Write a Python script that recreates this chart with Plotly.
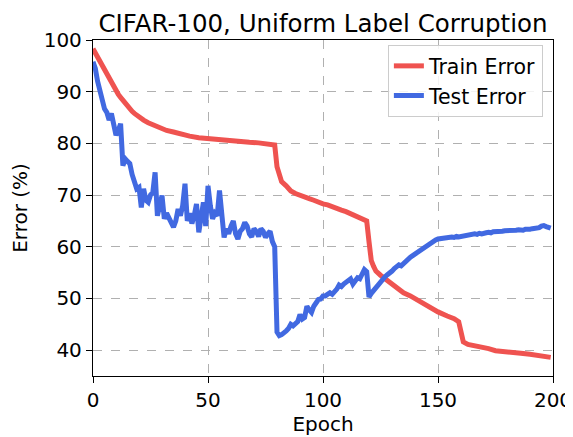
import plotly.graph_objects as go

# Train error (red)
train_epoch = [0, 1, 2, 3, 4, 5, 6, 7, 8, 9, 10, 11, 12, 13, 14, 15, 16, 17, 18, 19, 20,
               22, 24, 26, 28, 30, 32, 35, 38, 42, 46, 50, 54, 57, 60, 64, 68, 72, 75, 78,
               79, 80, 81, 82, 84, 86, 88, 90, 92, 94, 96, 98, 100, 102, 104, 106, 108,
               110, 112, 114, 116, 118, 119, 120, 121, 122, 123, 125, 128, 130, 132, 135,
               138, 140, 143, 146, 150, 154, 157, 159, 160, 161, 163, 166, 168, 172, 175,
               178, 182, 186, 190, 194, 197, 199]
train_error = [98.3, 97.5, 96.5, 95.5, 94.8, 94.2, 93.3, 92.6, 91.8, 91.0, 90.3, 89.5, 88.9,
               88.3, 87.7, 87.2, 86.7, 86.2, 85.8, 85.4, 85.1,
               84.5, 84.0, 83.6, 83.2, 82.8, 82.5, 82.2, 81.8, 81.4, 81.1, 80.9, 80.7, 80.6,
               80.5, 80.4, 80.2, 80.1, 80.0, 79.9,
               79.7, 75.5, 73.5, 72.6, 71.8, 70.8, 70.3, 69.9, 69.6, 69.3, 69.0, 68.6, 68.3,
               68.1, 67.7, 67.4, 67.1, 66.8, 66.4, 66.1, 65.6, 65.2, 65.0, 61.0, 57.3, 56.2,
               55.3, 54.5, 53.5, 52.8, 51.9, 51.1, 50.5, 50.0, 49.1, 48.3, 47.4, 46.6, 46.1,
               45.5, 43.0, 41.6, 41.1, 40.9, 40.8, 40.3, 39.9, 39.7, 39.5, 39.4, 39.2, 39.0,
               38.8, 38.6]

# Test error (blue), one reading per epoch
test_epoch = list(range(0, 200))
test_error = [95.8, 94.5, 92.0, 90.0, 88.5, 86.7, 86.0, 84.5, 85.8, 83.0,
              81.6, 82.5, 83.8, 75.7, 77.0, 76.5, 76.1, 74.0, 72.5, 71.2,
              71.5, 67.6, 71.2, 69.0, 68.6, 70.0, 70.5, 74.4, 66.0, 68.0,
              69.9, 65.4, 66.5, 65.6, 64.5, 63.8, 65.0, 67.3, 66.0, 68.0,
              72.2, 65.0, 66.5, 64.5, 66.0, 68.3, 62.8, 66.0, 68.6, 64.0,
              71.8, 68.0, 65.4, 66.5, 66.0, 70.9, 67.0, 61.8, 63.5, 62.5,
              64.0, 65.0, 62.5, 61.5, 63.0, 63.5, 64.7, 64.0, 62.5, 61.9,
              63.5, 63.0, 62.0, 63.5, 63.0, 61.8, 62.5, 63.0, 61.0, 60.0,
              43.5, 42.8, 43.0, 43.3, 43.7, 44.2, 45.0, 44.7, 45.2, 45.5,
              46.9, 46.0, 46.3, 48.5, 47.8, 47.3, 48.5, 49.3, 49.8, 49.9,
              50.5, 50.5, 50.8, 51.1, 50.8, 51.2, 51.8, 52.6, 52.3, 52.8,
              53.1, 53.5, 53.8, 52.8, 53.6, 54.0, 53.8, 54.5, 55.6, 55.2,
              50.3, 51.0, 51.6, 52.2, 52.8, 53.2, 53.6, 54.2, 54.6, 54.9,
              55.3, 55.8, 56.3, 56.5, 56.3, 56.8, 57.3, 57.6, 58.0, 58.3,
              58.6, 58.9, 59.2, 59.5, 59.9, 60.3, 60.5, 60.8, 61.1, 61.3,
              61.5, 61.6, 61.6, 61.7, 61.8, 61.8, 61.9, 61.8, 62.0, 61.9,
              62.0, 61.9, 62.1, 62.2, 62.4, 62.4, 62.5, 62.4, 62.6, 62.5,
              62.7, 62.7, 62.8, 62.7, 62.9, 62.9, 63.0, 62.8, 63.0, 63.1,
              63.1, 63.0, 63.2, 63.1, 63.2, 63.3, 63.2, 63.2, 63.4, 63.3,
              63.4, 63.5, 63.5, 63.6, 63.7, 64.0, 64.1, 63.9, 63.7, 63.6]

x_ticks = [0, 50, 100, 150, 200]
y_ticks = [40, 50, 60, 70, 80, 90, 100]

RED = "#EF5350"
BLUE = "#4169E1"
FONT = "DejaVu Sans"

fig = go.Figure()
fig.add_trace(go.Scatter(x=train_epoch, y=train_error, mode="lines", name="Train Error",
                         line=dict(color=RED, width=5)))
fig.add_trace(go.Scatter(x=test_epoch, y=test_error, mode="lines", name="Test Error",
                         line=dict(color=BLUE, width=5)))

axis_common = dict(
    showline=True, linecolor="black", linewidth=1.3, mirror=True,
    ticks="outside", ticklen=6, tickwidth=1.3, tickcolor="black",
    showgrid=True, gridcolor="#b0b0b0", griddash="dash", gridwidth=1.2,
    zeroline=False, automargin=False,
    tickfont=dict(family=FONT, size=20, color="black"),
)

# The page body has an 8px margin, so the figure is sized to fit inside the window.
fig.update_layout(
    width=565, height=429,
    margin=dict(l=85, r=20, t=32, b=61, autoexpand=False),
    paper_bgcolor="white", plot_bgcolor="white",
    font=dict(family=FONT, color="black"),
    title=dict(text="CIFAR-100, Uniform Label Corruption", x=0.5, xanchor="center",
               xref="paper", yref="container", y=0.985, yanchor="top",
               font=dict(family=FONT, size=24.5, color="black")),
    xaxis=dict(range=[0, 200], tickvals=x_ticks,
               title=dict(text="Epoch", font=dict(family=FONT, size=20), standoff=4),
               **axis_common),
    yaxis=dict(range=[35, 100], tickvals=y_ticks,
               title=dict(text="Error (%)", font=dict(family=FONT, size=20), standoff=10),
               **axis_common),
    legend=dict(x=0.978, y=0.985, xanchor="right", yanchor="top",
                bgcolor="rgba(255,255,255,0.85)", bordercolor="#cccccc", borderwidth=1,
                font=dict(family=FONT, size=20.5, color="black"),
                tracegroupgap=0),
    showlegend=True,
)

fig.write_html("out.html")
